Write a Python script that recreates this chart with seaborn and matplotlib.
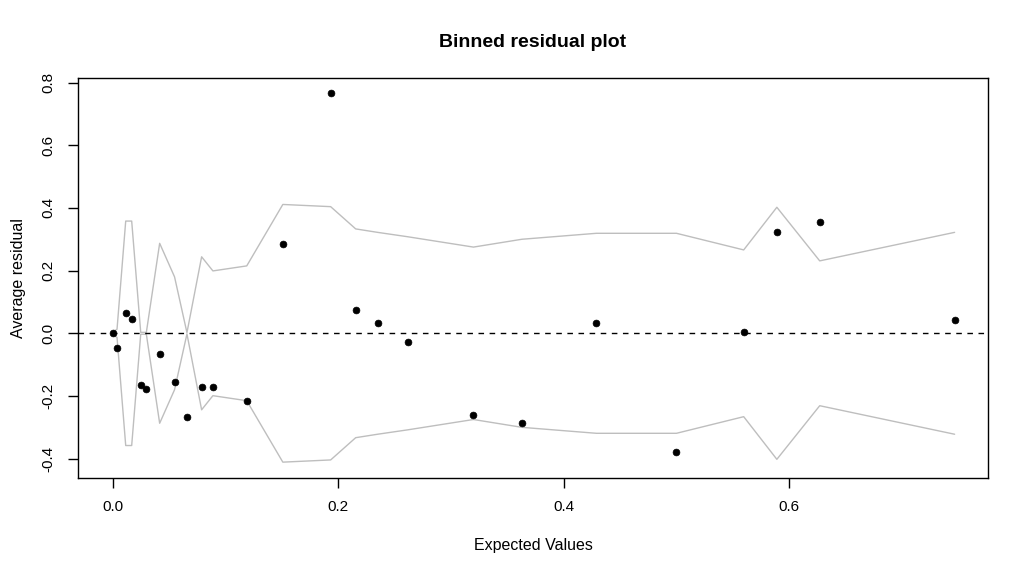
import pandas as pd
import matplotlib
matplotlib.use('Agg')
import matplotlib.pyplot as plt
import seaborn as sns

# Binned residuals
expected = [0.000, 0.004, 0.0117, 0.017, 0.025, 0.030, 0.0418, 0.055, 0.066, 0.079,
            0.089, 0.119, 0.151, 0.1934, 0.2156, 0.235, 0.2617, 0.320, 0.363, 0.429,
            0.500, 0.5596, 0.589, 0.627, 0.7466]
avg_resid = [0.000, -0.046, 0.066, 0.047, -0.164, -0.177, -0.065, -0.154, -0.266, -0.170,
             -0.170, -0.215, 0.286, 0.767, 0.075, 0.034, -0.027, -0.260, -0.285, 0.034,
             -0.378, 0.004, 0.324, 0.356, 0.043]
# 2 * standard error per bin (upper bound; lower bound is the negative)
bound = [0.003, 0.013, 0.358, 0.358, 0.003, 0.003, 0.287, 0.180, 0.002, 0.244,
         0.199, 0.215, 0.411, 0.404, 0.333, 0.322, 0.308, 0.275, 0.300, 0.319,
         0.319, 0.266, 0.402, 0.231, 0.322]

df = pd.DataFrame({'x': expected, 'y': avg_resid,
                   'upper': bound, 'lower': [-b for b in bound]})

sns.set_style('white')
plt.rcParams['font.family'] = ['Liberation Sans', 'DejaVu Sans']
plt.rcParams['text.color'] = 'black'
plt.rcParams['axes.labelcolor'] = 'black'
plt.rcParams['xtick.color'] = 'black'
plt.rcParams['ytick.color'] = 'black'

fig = plt.figure(figsize=(10.3, 5.76), dpi=100)
ax = fig.add_axes([78 / 1030, 1 - 478 / 576, 910 / 1030, 400 / 576])

sns.lineplot(data=df, x='x', y='upper', color='#BEBEBE', lw=1, estimator=None, ax=ax)
sns.lineplot(data=df, x='x', y='lower', color='#BEBEBE', lw=1, estimator=None, ax=ax)
ax.axhline(0, color='black', lw=1, ls=(0, (4, 4)))
sns.scatterplot(data=df, x='x', y='y', color='black', s=24, edgecolor='black',
                linewidth=0.5, ax=ax, zorder=5)

ax.set_xlim(-0.0306, 0.7762)
ax.set_ylim(-0.4616, 0.8144)
ax.set_xticks([0.0, 0.2, 0.4, 0.6])
ax.set_xticklabels(['0.0', '0.2', '0.4', '0.6'])
ax.set_yticks([-0.4, -0.2, 0.0, 0.2, 0.4, 0.6, 0.8])
ax.set_yticklabels(['-0.4', '-0.2', '0.0', '0.2', '0.4', '0.6', '0.8'],
                   rotation=90, va='center')
ax.tick_params(direction='out', length=7, width=1, color='black',
               labelsize=11, pad=9, bottom=True, left=True)

for s in ax.spines.values():
    s.set_color('black')
    s.set_linewidth(1)

ax.set_xlabel('Expected Values', fontsize=11.5, labelpad=17)
ax.set_ylabel('Average residual', fontsize=11.5, labelpad=11)
ax.set_title('Binned residual plot', fontsize=14, fontweight='bold', pad=22)

fig.savefig('out.png', dpi=100)
